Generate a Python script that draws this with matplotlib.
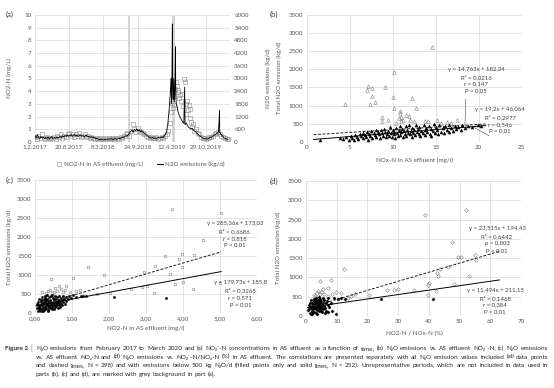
import matplotlib
matplotlib.use('Agg')
import matplotlib.pyplot as plt
import numpy as np
import pandas as pd
from matplotlib.lines import Line2D

# ---- (a) time series, day 0 = 1.2.2017 ----
start = pd.Timestamp('2017-02-01')
n2o_week = [300, 180, 340, 220, 160, 260, 190, 230, 150, 210,
            170, 240, 140, 200, 250, 160, 210, 180, 230, 190,
            220, 260, 200, 290, 240, 310, 260, 330, 280, 300,
            340, 270, 310, 360, 280, 320, 260, 300, 340, 270,
            300, 250, 290, 320, 240, 270, 220, 250, 200, 230,
            180, 150, 170, 130, 110, 140, 120, 100, 130, 110,
            140, 120, 150, 130, 160, 110, 140, 170, 130, 150,
            180, 160, 200, 230, 210, 260, 300, 280, 350, 420,
            500, 560, 460, 600, 540, 620, 520, 580, 470, 540,
            480, 420, 380, 330, 280, 240, 210, 180, 220, 170,
            200, 160, 190, 230, 180, 210, 250, 200, 300, 380,
            500, 900]
n2o_spike_days = [784, 790, 795, 798, 801, 803, 805, 808, 811, 814, 818, 821, 823, 826, 830, 834, 838]
n2o_spike_vals = [1500, 2200, 3000, 1800, 3400, 5580, 2500, 2000, 3000, 1900, 2600, 4500, 2200, 1800, 1700, 1500, 1400]
n2o_late_days = [842, 849, 856, 863, 870, 875, 877, 884, 891, 898,
                 905, 912, 919, 926, 933, 940, 947, 954, 961, 968,
                 975, 982, 989, 996, 1003, 1010, 1017, 1024, 1031, 1038,
                 1045, 1052, 1059, 1066, 1073, 1079, 1080, 1087, 1094, 1101,
                 1108, 1115, 1122, 1129]
n2o_late_vals = [1300, 1150, 1050, 950, 880, 2600, 820, 900, 780, 700,
                 650, 620, 650, 560, 520, 480, 420, 360, 300, 260,
                 220, 180, 150, 170, 130, 150, 190, 230, 210, 270,
                 300, 340, 380, 420, 480, 1500, 450, 380, 300, 230,
                 180, 160, 130, 110]

no2_early = [0.4, 0.2, 0.5, 0.3, 0.6, 0.3, 0.2, 0.4, 0.3, 0.2,
             0.3, 0.4, 0.2, 0.5, 0.4, 0.6, 0.3, 0.5, 0.4, 0.6,
             0.7, 0.5, 0.6, 0.4, 0.6, 0.5, 0.7, 0.4, 0.5, 0.6,
             0.4, 0.5, 0.3, 0.4, 0.3, 0.2, 0.3, 0.2, 0.3, 0.2,
             0.2, 0.3, 0.2, 0.3, 0.2, 0.3, 0.2, 0.3, 0.3, 0.2,
             0.4, 0.3, 0.5, 0.6, 0.7, 0.5, 0.9, 1.4, 1.0, 0.8,
             1.1, 0.9, 0.8, 0.7, 0.6, 0.5, 0.4, 0.3, 0.4, 0.3,
             0.3, 0.4, 0.2, 0.3, 0.4, 0.3, 0.5, 0.6, 0.9]
no2_late_days = [790, 795, 800, 805, 810, 815, 820, 825, 829, 834, 838,
                 843, 850, 855, 860, 865, 870, 875, 880, 885,
                 890, 895, 899, 904, 909, 914, 920, 925, 930,
                 940, 950, 960, 970, 980, 990, 1000, 1010, 1020, 1030,
                 1040, 1050, 1060, 1070, 1080, 1090, 1100, 1110, 1120, 1130]
no2_late_vals = [1.5, 2.4, 3.1, 2.7, 3.6, 2.9, 4.2, 4.7, 4.4, 3.9, 4.1,
                 3.5, 3.7, 3.2, 3.8, 2.8, 5.0, 4.7, 3.0, 2.2,
                 3.2, 2.5, 2.9, 1.9, 2.6, 1.6, 1.2, 1.4, 0.9,
                 1.0, 0.7, 0.6, 0.4, 0.3, 0.3, 0.2, 0.3, 0.4, 0.4,
                 0.5, 0.6, 0.7, 0.8, 0.6, 0.5, 0.4, 0.3, 0.2, 0.2]
grey_periods = [(544, 557), (798, 817)]
date_ticks = [0, 200, 400, 600, 800, 1000]

# ---- (b) N2O vs NOx-N ----
b_open_x = [14.6, 10.2, 7.1, 7.0, 7.6, 9.1, 7.6, 7.9, 7.4, 4.4,
            10.0, 10.2, 12.2, 12.7, 10.9, 10.9, 8.8, 8.8, 9.5, 11.0,
            11.2, 11.6, 11.9, 12.0, 17.5, 15.2, 11.0, 10.7, 13.8, 14.1,
            16.3, 16.8, 15.6, 12.5, 10.4]
b_open_y = [2610, 1920, 1540, 1430, 1480, 1520, 1260, 1110, 1040, 1030,
            1240, 920, 1220, 940, 850, 790, 690, 560, 590, 690,
            610, 740, 710, 600, 590, 600, 560, 650, 580, 560,
            540, 530, 520, 560, 530]
b_fill_x = [1.5, 3.9, 4.2, 4.6, 4.9, 5.1, 5.3, 5.5, 5.6, 5.8,
            6.0, 6.2, 6.3, 6.5, 6.6, 6.8, 6.9, 7.0, 7.1, 7.2,
            7.4, 7.5, 7.6, 7.8, 7.9, 8.0, 8.1, 8.3, 8.4, 8.5,
            8.6, 8.8, 8.9, 9.0, 9.1, 9.2, 9.3, 9.5, 9.6, 9.7,
            9.8, 9.9, 10.0, 10.1, 10.2, 10.3, 10.4, 10.5, 10.6, 10.7,
            10.8, 10.9, 11.0, 11.1, 11.2, 11.3, 11.4, 11.5, 11.6, 11.7,
            11.8, 11.9, 12.0, 12.1, 12.2, 12.3, 12.4, 12.5, 12.6, 12.7,
            12.8, 12.9, 13.0, 13.1, 13.2, 13.3, 13.5, 13.6, 13.7, 13.8,
            13.9, 14.0, 14.2, 14.3, 14.4, 14.5, 14.7, 14.8, 14.9, 15.0,
            15.2, 15.3, 15.4, 15.6, 15.8, 16.0, 16.1, 16.3, 16.5, 16.6,
            16.8, 17.0, 17.2, 17.4, 17.6, 17.9, 18.1, 18.4, 18.7, 19.2,
            19.9, 20.3]
b_fill_y = [60, 100, 80, 130, 60, 150, 90, 40, 180, 120,
            70, 210, 150, 100, 250, 180, 130, 280, 60, 220,
            160, 300, 110, 240, 190, 330, 140, 270, 200, 90,
            310, 230, 160, 360, 260, 120, 200, 300, 170, 400,
            240, 140, 330, 200, 270, 100, 380, 230, 160, 310,
            440, 190, 260, 350, 130, 290, 210, 420, 170, 330,
            250, 470, 200, 300, 140, 380, 240, 320, 180, 450,
            270, 350, 210, 400, 160, 300, 250, 460, 330, 190,
            380, 280, 430, 220, 350, 150, 300, 480, 250, 400,
            330, 200, 450, 280, 380, 230, 420, 330, 270, 460,
            380, 300, 440, 350, 400, 320, 460, 380, 420, 400,
            450, 430]
b_fit_all = (14.763, 182.34)
b_fit_low = (19.2, 46.064)
b_fit_range = (0.8, 20.8)

# ---- (c) N2O vs NO2-N ----
c_open_x = [3.69, 5.02, 4.54, 3.50, 3.98, 4.29, 3.90, 3.24, 3.97, 2.95,
            3.64, 1.43, 1.86, 1.02, 0.43, 0.84, 3.79, 4.00, 4.26, 3.22,
            2.59, 2.88, 3.02, 5.0, 1.67, 2.02, 1.22, 0.30, 0.40, 0.50,
            0.60, 0.70, 0.75, 0.55, 0.45, 0.20, 0.35, 0.65, 0.80, 0.95, 1.1]
c_open_y = [2750, 2620, 1920, 1490, 1550, 1530, 1420, 1250, 1200, 1090,
            1020, 1200, 1010, 920, 900, 710, 770, 820, 630, 520,
            640, 680, 700, 790, 500, 520, 610, 520, 600, 560,
            580, 620, 540, 650, 530, 560, 590, 720, 600, 560, 580]
c_fill_x = [0.05, 0.06, 0.08, 0.09, 0.10, 0.11, 0.12, 0.13, 0.14, 0.15,
            0.16, 0.17, 0.18, 0.19, 0.20, 0.21, 0.22, 0.23, 0.24, 0.25,
            0.26, 0.27, 0.28, 0.29, 0.30, 0.31, 0.32, 0.33, 0.34, 0.35,
            0.36, 0.37, 0.38, 0.39, 0.40, 0.41, 0.42, 0.43, 0.44, 0.45,
            0.46, 0.47, 0.48, 0.49, 0.50, 0.51, 0.52, 0.53, 0.54, 0.55,
            0.56, 0.57, 0.58, 0.59, 0.60, 0.61, 0.62, 0.63, 0.64, 0.65,
            0.66, 0.67, 0.68, 0.70, 0.71, 0.72, 0.74, 0.75, 0.77, 0.79,
            0.81, 0.83, 0.85, 0.88, 0.92, 0.97, 1.03, 1.12, 1.25, 1.30,
            1.37, 2.14, 3.55, 0.07, 0.12, 0.18, 0.22, 0.26, 0.30, 0.34,
            0.38, 0.42, 0.46, 0.50, 0.27, 0.33]
c_fill_y = [120, 250, 60, 300, 180, 90, 380, 220, 140, 280,
            50, 330, 200, 420, 110, 260, 170, 350, 80, 230,
            300, 150, 460, 200, 270, 120, 380, 240, 180, 320,
            90, 280, 430, 210, 160, 350, 250, 130, 300, 480,
            220, 170, 390, 270, 110, 330, 200, 440, 260, 150,
            360, 290, 190, 410, 240, 320, 130, 270, 460, 210,
            350, 290, 170, 400, 250, 330, 200, 440, 290, 360,
            230, 410, 310, 380, 450, 400, 470, 430, 450, 445,
            460, 424, 405, 200, 140, 330, 60, 400, 330, 60,
            140, 440, 100, 360, 100, 470]
c_fit_all = (285.36, 173.03)
c_fit_low = (179.73, 185.8)
c_fit_range = (0.03, 5.03)

# ---- (d) N2O vs NO2-N/NOx-N ----
d_open_x = [52.2, 38.8, 47.4, 49.6, 50.5, 55.0, 55.2, 43.7, 42.8, 43.0,
            46.3, 53.1, 48.2, 39.9, 39.6, 39.6, 35.0, 29.9, 28.8, 26.3,
            20.5, 12.3, 8.1, 4.5, 7.2, 11.5, 9.7, 14.8, 13.7, 42.3,
            2.5, 3.5, 4.5, 5.0, 4.0, 6.0, 7.0, 8.5, 3.0, 5.5, 16.0]
d_open_y = [2750, 2620, 1920, 1520, 1520, 1570, 1440, 1230, 1110, 1030,
            1260, 1050, 830, 850, 810, 550, 680, 700, 670, 680,
            550, 1230, 940, 910, 720, 600, 620, 520, 460, 650,
            540, 600, 560, 620, 650, 580, 530, 560, 520, 700, 560]
d_fill_x = [0.8, 1.0, 1.2, 1.4, 1.5, 1.7, 1.8, 2.0, 2.1, 2.2,
            2.4, 2.5, 2.6, 2.7, 2.9, 3.0, 3.1, 3.2, 3.3, 3.4,
            3.5, 3.6, 3.7, 3.8, 3.9, 4.0, 4.1, 4.2, 4.3, 4.4,
            4.5, 4.6, 4.7, 4.8, 4.9, 5.0, 5.1, 5.2, 5.4, 5.5,
            5.6, 5.8, 6.0, 6.2, 6.4, 6.6, 6.8, 7.0, 7.3, 7.6,
            8.0, 8.5, 9.0, 9.9, 10.5, 11.5, 12.6, 24.3, 41.4, 1.3,
            1.9, 2.3, 2.8, 3.3, 3.8, 4.3, 1.1, 2.6, 3.6, 4.4,
            5.3, 1.6, 6.1, 7.1]
d_fill_y = [150, 280, 90, 350, 200, 420, 130, 260, 60, 320,
            190, 450, 240, 110, 380, 300, 170, 470, 220, 90,
            340, 260, 150, 410, 290, 200, 360, 120, 480, 250,
            320, 180, 430, 270, 140, 380, 220, 300, 460, 170,
            350, 250, 420, 200, 330, 130, 400, 280, 460, 230,
            350, 120, 470, 45, 430, 460, 450, 444, 444, 240,
            330, 100, 200, 380, 240, 300, 180, 400, 60, 420,
            100, 50, 90, 110]
d_fit_all = (23.515, 194.43)
d_fit_low = (11.494, 211.15)
d_fit_range = (0.5, 63.0)

caption_lines = [
    "N₂O emissions from February 2017 to March 2020 and (a) NO₂⁻-N concentrations in AS effluent as a function of time, "
    "(b) N₂O emissions vs. AS effluent NO₂⁻-N, (c) N₂O emissions",
    "vs. AS effluent NOₓ-N and (d) N₂O emissions vs. NO₂⁻-N/NOₓ-N (%) in AS effluent. The correlations are presented "
    "separately with all N₂O emission values included (all data points",
    "and dashed lines, N = 298) and with emissions below 500 kg N₂O/d (filled points only and solid lines, N = 252). "
    "Unrepresentative periods, which are not included in data used in",
    "parts (b), (c) and (d), are marked with grey background in part (a).",
]

W, H = 554, 388
plt.rcParams['font.family'] = ['Lato', 'DejaVu Sans']
fig = plt.figure(figsize=(W / 100, H / 100), dpi=100)
TC = '#595959'
FS = 4.5


def box(l, t, r, b):
    return [l / W, 1 - b / H, (r - l) / W, (b - t) / H]


def ftext(x, y, s, **kw):
    kw.setdefault('fontsize', FS)
    kw.setdefault('color', TC)
    return fig.text(x / W, 1 - y / H, s, ha=kw.pop('ha', 'center'), va=kw.pop('va', 'center'), **kw)


def style(ax):
    for s in ax.spines.values():
        s.set_visible(False)
    ax.tick_params(length=0, labelsize=FS, colors=TC, pad=2.5)
    ax.grid(color='#d9d9d9', lw=0.5)
    ax.set_axisbelow(True)


# (a)
ax = fig.add_axes(box(35, 15, 230, 142))
style(ax)
for a0, a1 in grey_periods:
    ax.axvspan(a0, a1, color='#d4d4d4', lw=0, zorder=0.5)
no2_days = list(range(0, 790, 10)) + no2_late_days
no2_vals = no2_early + no2_late_vals
ax.plot(no2_days, no2_vals, ls='none', marker='s', ms=2.3, mfc='none', mec='#8c8c8c', mew=0.4)
ax.set_xlim(0, 1140)
ax.set_ylim(0, 10)
ax.set_yticks(range(0, 11))
ax.set_xticks(date_ticks)
ax.set_xticklabels([f'{d.day}.{d.month}.{d.year}' for d in (start + pd.to_timedelta(date_ticks, unit='D'))])
ax2 = ax.twinx()
for s in ax2.spines.values():
    s.set_visible(False)
ax2.tick_params(length=0, labelsize=FS, colors=TC, pad=3)
days = np.array(list(range(0, 784, 7)) + n2o_spike_days + n2o_late_days)
vals = np.array(n2o_week + n2o_spike_vals + n2o_late_vals)
order = np.argsort(days, kind='stable')
ax2.plot(days[order], vals[order], color='black', lw=0.6)
ax2.set_ylim(0, 6000)
ax2.set_yticks(range(0, 6001, 600))
ax2.set_xlim(0, 1140)
fig.legend(handles=[Line2D([], [], marker='s', ls='none', mfc='none', mec='#8c8c8c', ms=2.5, mew=0.4),
                    Line2D([], [], color='black', lw=0.7)],
           labels=['NO2-N in AS effluent (mg/L)', 'N2O emissions (kg/d)'],
           loc='center', bbox_to_anchor=(140 / W, 1 - 164 / H), ncol=2, frameon=False,
           fontsize=FS, handlelength=1.0, columnspacing=2.2, handletextpad=0.3, labelcolor=TC)
ftext(9, 78, 'NO2-N (mg/L)', rotation=90)
ftext(268, 78, 'N2O emissions (kg/d)', rotation=90)
ftext(10, 14, '(a)', fontsize=5.5, color='#404040')


def scatter_panel(rect, ox, oy, fx, fy, marker, ms, fit_all, fit_low, fit_range, xlim, xticks, xfmt):
    a = fig.add_axes(rect)
    style(a)
    a.plot(ox, oy, ls='none', marker=marker, ms=ms, mfc='none', mec='#7f7f7f', mew=0.4)
    a.plot(fx, fy, ls='none', marker=marker, ms=ms * 0.85, mfc='black', mec='black', mew=0.3)
    xs = np.array(fit_range)
    a.plot(xs, fit_all[0] * xs + fit_all[1], color='#222222', lw=0.7, ls=(0, (3, 1.6)))
    a.plot(xs, fit_low[0] * xs + fit_low[1], color='black', lw=0.7)
    a.set_xlim(*xlim)
    a.set_ylim(0, 3500)
    a.set_yticks(range(0, 3501, 500))
    a.set_xticks(xticks)
    a.set_xticklabels([xfmt(v) for v in xticks])
    return a


ANN = dict(ha='center', va='top', fontsize=4.3, linespacing=1.45, color='#404040')

# (b)
axb = scatter_panel(box(306.7, 15, 521.7, 141.7), b_open_x, b_open_y, b_fill_x, b_fill_y, '^', 2.6,
                    b_fit_all, b_fit_low, b_fit_range, (0, 25), range(0, 26, 5), lambda v: f'{v}')
axb.text(19.7, 2065, 'y = 14,763x + 182,34\nR² = 0,0216\nr = 0,147\nP = 0,05', **ANN)
axb.text(22.5, 958, 'y = 19,2x + 46,064\nR² = 0,2977\nr = 0,546\nP = 0,01', clip_on=False, **ANN)
axb.plot([18.5, 18.4], [1170, 455], color='#404040', lw=0.4)
axb.plot([19.3, 21.2], [415, 165], color='#404040', lw=0.4)
ftext(279, 78, 'Total N2O emission (kg/d)', rotation=90)
ftext(414, 160, 'NOx-N in AS effluent (mg/l)')
ftext(274, 14, '(b)', fontsize=5.5, color='#404040')

# (c)
axc = scatter_panel(box(35, 180, 257, 313), c_open_x, c_open_y, c_fill_x, c_fill_y, 'o', 2.0,
                    c_fit_all, c_fit_low, c_fit_range, (0, 6), range(0, 7), lambda v: f'{v},00')
axc.text(5.4, 2420, 'y = 285,36x + 173,03\nR² = 0,6686\nr = 0,818\nP = 0,01', clip_on=False, **ANN)
axc.text(5.55, 860, 'y = 179,73x + 185,8\nR² = 0,3265\nr = 0,571\nP = 0,01', clip_on=False, **ANN)
ftext(9, 247, 'Total N2O emissions (kg/d)', rotation=90)
ftext(146, 328, 'NO2-N in AS effluent (mg/l)')
ftext(10, 180, '(c)', fontsize=5.5, color='#404040')

# (d)
axd = scatter_panel(box(306, 181, 521, 316), d_open_x, d_open_y, d_fill_x, d_fill_y, 'D', 1.9,
                    d_fit_all, d_fit_low, d_fit_range, (0, 70), range(0, 71, 10), lambda v: f'{v}')
axd.text(62.2, 2323, 'y = 23,515x + 194,43\nR² = 0,6442\nρ = 0,803\nP = 0,01', clip_on=False, **ANN)
axd.text(61.6, 730, 'y = 11,494x + 211,15\nR² = 0,1468\nr = 0,384\nP = 0,01', clip_on=False, **ANN)
ftext(278, 248, 'Total N2O emission (kg/d)', rotation=90)
ftext(414, 333, 'NO2-N / NOx-N (%)')
ftext(274, 181, '(d)', fontsize=5.5, color='#404040')

# caption: font size fitted to the text block, lines 1-3 justified word by word
CAP = dict(family=['Lato', 'DejaVu Sans'], va='baseline')
CC = '#262626'
renderer = fig.canvas.get_renderer()
x_left, x_right = 36, 548


def width_of(s, size, **kw):
    t = fig.text(0, 0, s, fontsize=size, **CAP, **kw)
    w = t.get_window_extent(renderer).width
    t.remove()
    return w


natural = max(width_of(line, 5.0) for line in caption_lines[:3])
CFS = 5.0 * (x_right - x_left) * 0.99 / natural
base0 = 350
ftext(5, base0, 'Figure 2', ha='left', fontsize=CFS, color=CC, weight='bold', **CAP)
bar_x = 5 + width_of('Figure 2', CFS, weight='bold') + 2
ftext(bar_x, base0 + 0.5, '|', ha='left', fontsize=CFS + 0.5, color='#5b7fa8', **CAP)
space = width_of('a a', CFS) - width_of('aa', CFS)
for i, line in enumerate(caption_lines):
    y = base0 + 8.6 * i
    words = line.split(' ')
    widths = [width_of(wd, CFS) for wd in words]
    if i < len(caption_lines) - 1:
        gap = (x_right - x_left - sum(widths)) / (len(words) - 1)
    else:
        gap = space
    x = x_left
    for wd, wdw in zip(words, widths):
        ftext(x, y, wd, ha='left', fontsize=CFS, color=CC, **CAP)
        x += wdw + gap

fig.savefig('out.png', dpi=100)
